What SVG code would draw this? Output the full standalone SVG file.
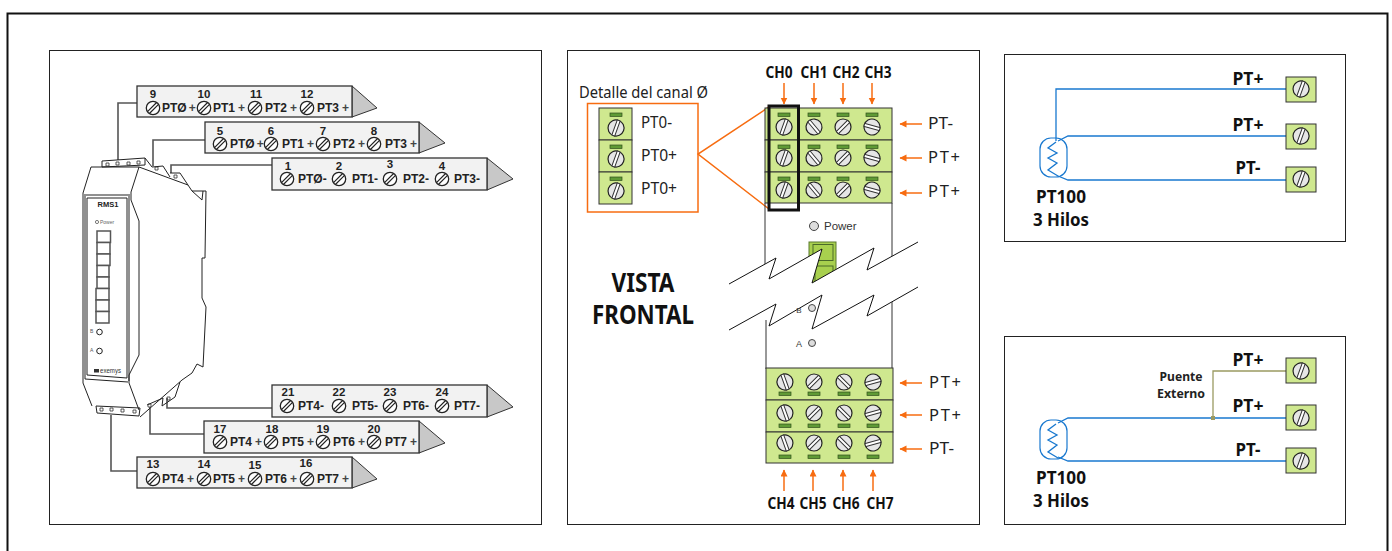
<svg xmlns="http://www.w3.org/2000/svg" width="1392" height="551" viewBox="0 0 1392 551">
<style>
.panel{fill:#fff;stroke:#222;stroke-width:1}
.tag{fill:#f2f2f2;stroke:#333;stroke-width:1.3}
.tip{fill:#c8c8c8;stroke:#333;stroke-width:1}
.tn{font:bold 11.5px "Liberation Sans",Arial,sans-serif;fill:#222;text-anchor:middle}
.tt{font:bold 12px "Liberation Sans",Arial,sans-serif;fill:#222}
.tt tspan{fill:#444}
.wire{fill:none;stroke:#555;stroke-width:1.6}
.dev{fill:none;stroke:#222;stroke-width:1}
.ch{font:bold 16px "Noto Sans","Open Sans",sans-serif;fill:#111;text-anchor:middle}
.lab{font:16.500px "Noto Sans","Open Sans",sans-serif;fill:#222}
.pt{font:bold 18.500px "Noto Sans","Open Sans",sans-serif;fill:#111;text-anchor:middle}
.blk{fill:#cfe88f;stroke:#333;stroke-width:1}
.ind{fill:#5f9a35;stroke:#2f4f1c;stroke-width:.7}
.or{fill:none;stroke:#f76c10;stroke-width:1.5}
.bl{fill:none;stroke:#1878cf;stroke-width:1.3}
.led{fill:#ddd;stroke:#444;stroke-width:1}
</style>
<defs>
<g id="ts"><circle r="6.7" fill="#fff" stroke="#222" stroke-width="1.3"/><path d="M-5.500 3.600L3.600-5.500M-3.600 5.500L5.500-3.600" stroke="#222" stroke-width="1.2"/></g>
<g id="s"><circle r="8" fill="#e6e6e6" stroke="#222" stroke-width="1.2"/><rect x="-1.500" y="-8" width="3" height="16" fill="#fff" stroke="#333" stroke-width="1"/></g>
<marker id="ah" markerWidth="8" markerHeight="8" refX="6.500" refY="3.500" orient="auto" markerUnits="userSpaceOnUse"><path d="M0 0L7 3.500L0 7z" fill="#f76c10"/></marker>
<path id="res" d="M1056 142L1048 148L1057 153L1048 158L1057 163L1048 170L1058 176" fill="none" stroke="#1878cf" stroke-width="1.300"/>
<rect id="cap" x="1040" y="138" width="27" height="39" rx="11" fill="none" stroke="#1878cf" stroke-width="1.200"/>
</defs>
<rect width="1392" height="551" fill="#fff"/>
<path id="frame" d="M7.500 551V13.500H1387.500V551" fill="none" stroke="#111" stroke-width="2"/>
<rect id="panel-a" class="panel" x="49.500" y="50.500" width="492" height="474"/>
<rect id="panel-b" class="panel" x="567.500" y="50.500" width="412" height="474"/>
<rect id="panel-c" class="panel" x="1004.500" y="54.500" width="341" height="187"/>
<rect id="panel-d" class="panel" x="1004.500" y="336.500" width="341" height="188"/>

<g id="connectors">
<path class="wire" d="M137 103H118V160"/>
<path class="wire" d="M205 140H153V166"/>
<path class="wire" d="M272 165H171V173"/>
<path class="wire" d="M272 408H167V398"/>
<path class="wire" d="M204 434H150V407"/>
<path class="wire" d="M137 471H111V415"/>
<path class="or" d="M784 83V104" marker-end="url(#ah)"/><path class="or" d="M814 83V104" marker-end="url(#ah)"/><path class="or" d="M843 83V104" marker-end="url(#ah)"/><path class="or" d="M872 83V104" marker-end="url(#ah)"/>
<path class="or" d="M922 124H900" marker-end="url(#ah)"/><path class="or" d="M922 158H900" marker-end="url(#ah)"/><path class="or" d="M922 193H900" marker-end="url(#ah)"/>
<path class="or" d="M922 383H900" marker-end="url(#ah)"/><path class="or" d="M922 415H900" marker-end="url(#ah)"/><path class="or" d="M922 449H900" marker-end="url(#ah)"/>
<path class="or" d="M784 491V470" marker-end="url(#ah)"/><path class="or" d="M813 491V470" marker-end="url(#ah)"/><path class="or" d="M843 491V470" marker-end="url(#ah)"/><path class="or" d="M873 491V470" marker-end="url(#ah)"/>
<path class="or" d="M769 107L698 154L769 209"/>
<path class="bl" d="M1286 89H1056V141M1286 136H1068L1058 141M1286 180H1068L1058 176"/>
<path class="bl" d="M1286 418H1068L1058 423M1286 461H1068L1058 457"/>
<path d="M1213 418V371H1286" fill="none" stroke="#9a9a62" stroke-width="1.300"/>
<rect x="1211" y="416" width="4" height="4" fill="#9a9a62"/>
</g>

<g id="device">
<path class="dev" d="M91 167L139 167L131 192V200L139 221V355L129 375V383L139 410"/>
<path class="dev" d="M91 167L83 193V383L92 406"/>
<path class="dev" d="M84 195H130M85 196V379L128 382M129 196V381"/>
<path class="dev" d="M87 198H127V378L87 375V198" stroke-width="1.200"/>
<path class="dev" d="M102 161L145 158V165L102 167ZM145 158L152 167M139 167L188 185M152 167L163 166L170 177M170 173L180 173L188 185L192 191H203L202 200L192 191M203 191H206L205 258H202V298L206 307L203 367L197 364L192 373L182 380L140 417"/>
<path class="dev" d="M96 406L140 408L139 416L97 413ZM147 405L163 398L162 406L175 397L180 382"/>
<path d="M106 163h3v3h-3zM116 162h3v3h-3zM127 162h3v3h-3zM137 161h3v3h-3zM155 167h3v3h-3zM174 175h3v3h-3zM100 408h3v3h-3zM110 408h3v3h-3zM121 409h3v3h-3zM133 410h3v3h-3zM148 404h3v3h-3zM167 397h3v3h-3z" fill="none" stroke="#333" stroke-width=".8"/>
<text x="108" y="207" font-family="Liberation Sans,Arial,sans-serif" font-weight="bold" font-size="7.500" text-anchor="middle" fill="#222">RMS1</text>
<circle cx="97" cy="222" r="1.600" fill="none" stroke="#444" stroke-width=".7"/>
<text x="100" y="224" font-family="Liberation Sans,Arial,sans-serif" font-size="5" fill="#666">Power</text>
<g fill="#fff" stroke="#555" stroke-width="1.500">
<rect x="97" y="231" width="13.500" height="11.500"/><rect x="97" y="242.500" width="13" height="11.500"/><rect x="97" y="254" width="13" height="11.500"/><rect x="97" y="265.500" width="12" height="11.500"/><rect x="97" y="277" width="12" height="11.500"/><rect x="96" y="288.500" width="13" height="11.500"/><rect x="96" y="300" width="13" height="11.500"/><rect x="96" y="311.500" width="13" height="11.500"/>
</g>
<circle cx="99.500" cy="332" r="2.800" fill="#fff" stroke="#222" stroke-width="1"/>
<circle cx="99.500" cy="351" r="2.800" fill="#fff" stroke="#222" stroke-width="1"/>
<text x="90" y="333" font-family="Liberation Sans,Arial,sans-serif" font-size="5" fill="#555">B</text>
<text x="90" y="352" font-family="Liberation Sans,Arial,sans-serif" font-size="5" fill="#555">A</text>
<rect x="94" y="369" width="5" height="3.500" fill="#333"/>
<text x="100" y="373" font-family="Liberation Sans Narrow,Liberation Sans,sans-serif" font-size="7.500" fill="#333" textLength="21" lengthAdjust="spacingAndGlyphs">exemys</text>
</g>

<g id="tag-9">
<path class="tip" d="M352 86L377 108L352 117z"/><rect class="tag" x="137" y="86" width="215" height="31"/>
<use href="#ts" x="153" y="108"/><use href="#ts" x="204" y="108"/><use href="#ts" x="255" y="108"/><use href="#ts" x="307" y="108"/>
<text class="tn" x="153" y="98">9</text><text class="tn" x="204" y="98">10</text><text class="tn" x="256" y="98">11</text><text class="tn" x="307" y="98">12</text>
<text class="tt" x="162" y="112">PTØ<tspan dx="2">+</tspan></text><text class="tt" x="213" y="112">PT1<tspan dx="3">+</tspan></text><text class="tt" x="265" y="112">PT2<tspan dx="3">+</tspan></text><text class="tt" x="317" y="112">PT3<tspan dx="3">+</tspan></text>
</g>
<g id="tag-5">
<path class="tip" d="M419 122L445 143L419 153z"/><rect class="tag" x="205" y="122" width="214" height="31"/>
<use href="#ts" x="220" y="144"/><use href="#ts" x="271" y="144"/><use href="#ts" x="323" y="144"/><use href="#ts" x="374" y="144"/>
<text class="tn" x="220" y="135">5</text><text class="tn" x="271" y="135">6</text><text class="tn" x="323" y="135">7</text><text class="tn" x="374" y="135">8</text>
<text class="tt" x="230" y="148">PTØ<tspan dx="2">+</tspan></text><text class="tt" x="282" y="148">PT1<tspan dx="3">+</tspan></text><text class="tt" x="333" y="148">PT2<tspan dx="3">+</tspan></text><text class="tt" x="385" y="148">PT3<tspan dx="3">+</tspan></text>
</g>
<g id="tag-1">
<path class="tip" d="M487 158L513 179L487 190z"/><rect class="tag" x="272" y="158" width="215" height="32"/>
<use href="#ts" x="287" y="179"/><use href="#ts" x="339" y="179"/><use href="#ts" x="390" y="179"/><use href="#ts" x="442" y="179"/>
<text class="tn" x="288" y="170">1</text><text class="tn" x="339" y="170">2</text><text class="tn" x="390" y="168">3</text><text class="tn" x="442" y="170">4</text>
<text class="tt" x="298" y="183">PTØ-</text><text class="tt" x="352" y="183">PT1-</text><text class="tt" x="403" y="183">PT2-</text><text class="tt" x="454" y="183">PT3-</text>
</g>
<g id="tag-21">
<path class="tip" d="M487 385L513 407L487 417z"/><rect class="tag" x="272" y="385" width="215" height="32"/>
<use href="#ts" x="287" y="406"/><use href="#ts" x="339" y="406"/><use href="#ts" x="390" y="406"/><use href="#ts" x="442" y="406"/>
<text class="tn" x="288" y="396">21</text><text class="tn" x="339" y="396">22</text><text class="tn" x="390" y="396">23</text><text class="tn" x="442" y="396">24</text>
<text class="tt" x="298" y="410">PT4-</text><text class="tt" x="352" y="410">PT5-</text><text class="tt" x="403" y="410">PT6-</text><text class="tt" x="454" y="410">PT7-</text>
</g>
<g id="tag-17">
<path class="tip" d="M419 421L445 443L419 453z"/><rect class="tag" x="204" y="421" width="215" height="32"/>
<use href="#ts" x="220" y="442"/><use href="#ts" x="271" y="442"/><use href="#ts" x="323" y="442"/><use href="#ts" x="374" y="442"/>
<text class="tn" x="220" y="433">17</text><text class="tn" x="272" y="433">18</text><text class="tn" x="323" y="433">19</text><text class="tn" x="374" y="433">20</text>
<text class="tt" x="230" y="446">PT4<tspan dx="3">+</tspan></text><text class="tt" x="282" y="446">PT5<tspan dx="3">+</tspan></text><text class="tt" x="333" y="446">PT6<tspan dx="3">+</tspan></text><text class="tt" x="385" y="446">PT7<tspan dx="3">+</tspan></text>
</g>
<g id="tag-13">
<path class="tip" d="M352 457L377 479L352 488z"/><rect class="tag" x="137" y="457" width="215" height="31"/>
<use href="#ts" x="153" y="479"/><use href="#ts" x="204" y="479"/><use href="#ts" x="255" y="479"/><use href="#ts" x="307" y="479"/>
<text class="tn" x="153" y="468">13</text><text class="tn" x="204" y="468">14</text><text class="tn" x="255" y="469">15</text><text class="tn" x="306" y="467">16</text>
<text class="tt" x="162" y="483">PT4<tspan dx="3">+</tspan></text><text class="tt" x="213" y="483">PT5<tspan dx="3">+</tspan></text><text class="tt" x="265" y="483">PT6<tspan dx="3">+</tspan></text><text class="tt" x="317" y="483">PT7<tspan dx="3">+</tspan></text>
</g>

<g id="detail">
<rect x="587.500" y="103.500" width="110.500" height="108.500" class="or"/>
<text class="lab" x="579" y="98" textLength="129" lengthAdjust="spacingAndGlyphs">Detalle del canal Ø</text>
<rect class="blk" x="599" y="108" width="33" height="32"/><rect class="blk" x="599" y="140" width="33" height="32"/><rect class="blk" x="599" y="172" width="33" height="32"/>
<rect class="ind" x="610" y="113" width="12" height="3.500"/><rect class="ind" x="610" y="145" width="12" height="3.500"/><rect class="ind" x="610" y="177" width="12" height="3.500"/>
<use href="#s" transform="translate(616 128) rotate(20)"/><use href="#s" transform="translate(616 159) rotate(20)"/><use href="#s" transform="translate(616 191) rotate(20)"/>
<text class="lab" x="641" y="128" textLength="31" lengthAdjust="spacingAndGlyphs">PT0-</text>
<text class="lab" x="641" y="161" textLength="36" lengthAdjust="spacingAndGlyphs">PT0+</text>
<text class="lab" x="641" y="194" textLength="36" lengthAdjust="spacingAndGlyphs">PT0+</text>
</g>

<g id="front-body">
<path d="M765 203V270M892 203V260M766 320V369M892 300V369" fill="none" stroke="#333" stroke-width="1"/>
<circle class="led" cx="814" cy="226" r="4.500"/>
<text x="824" y="230" font-family="Liberation Sans,Arial,sans-serif" font-size="11.500" fill="#333">Power</text>
<rect x="809" y="242" width="27" height="50" fill="#a8d04e" stroke="#5a7a2e"/>
<rect x="813" y="244.500" width="20" height="16" fill="#a8d04e" stroke="#4a6a28"/><rect x="815" y="266" width="18" height="16" fill="#a8d04e" stroke="#4a6a28"/>
<path d="M729 284L776 258L769 279L822 249L812 283L874 248L867 270L918 242V287L867 316L874 295L812 329L822 295L769 326L776 304L729 330Z" fill="#fff" stroke="none"/>
<path d="M729 284L776 258L769 279L822 249L812 283L874 248L867 270L918 242M729 330L776 304L769 326L822 295L812 329L874 295L867 316L918 287" fill="none" stroke="#111" stroke-width="1"/>
<circle class="led" cx="812" cy="308" r="3.500"/><circle class="led" cx="812" cy="343" r="3.500"/>
<text x="799" y="313" font-family="Liberation Sans,Arial,sans-serif" font-size="8" text-anchor="middle" fill="#333">B</text>
<text x="799" y="347" font-family="Liberation Sans,Arial,sans-serif" font-size="9" text-anchor="middle" fill="#333">A</text>
</g>

<g id="block-top">
<rect class="blk" x="765" y="108" width="127" height="32"/><rect class="blk" x="765" y="140" width="127" height="32"/><rect class="blk" x="765" y="172" width="127" height="31"/>
<rect class="ind" x="778" y="113" width="12" height="3.500"/><rect class="ind" x="808" y="113" width="12" height="3.500"/><rect class="ind" x="837" y="113" width="12" height="3.500"/><rect class="ind" x="866" y="113" width="12" height="3.500"/><rect class="ind" x="778" y="145" width="12" height="3.500"/><rect class="ind" x="808" y="145" width="12" height="3.500"/><rect class="ind" x="837" y="145" width="12" height="3.500"/><rect class="ind" x="866" y="145" width="12" height="3.500"/><rect class="ind" x="778" y="177" width="12" height="3.500"/><rect class="ind" x="808" y="177" width="12" height="3.500"/><rect class="ind" x="837" y="177" width="12" height="3.500"/><rect class="ind" x="866" y="177" width="12" height="3.500"/>
<use href="#s" transform="translate(784 127) rotate(20)"/><use href="#s" transform="translate(814 127) rotate(-40)"/><use href="#s" transform="translate(843 127) rotate(45)"/><use href="#s" transform="translate(872 127) rotate(-75)"/>
<use href="#s" transform="translate(784 158) rotate(20)"/><use href="#s" transform="translate(814 158) rotate(-40)"/><use href="#s" transform="translate(843 158) rotate(45)"/><use href="#s" transform="translate(872 158) rotate(-75)"/>
<use href="#s" transform="translate(784 190) rotate(20)"/><use href="#s" transform="translate(814 190) rotate(-40)"/><use href="#s" transform="translate(843 190) rotate(45)"/><use href="#s" transform="translate(872 190) rotate(-75)"/>
<rect x="769" y="106" width="29.500" height="104" fill="none" stroke="#111" stroke-width="3"/>
</g>

<g id="block-bottom">
<rect class="blk" x="766" y="368" width="127" height="32"/><rect class="blk" x="766" y="400" width="127" height="32"/><rect class="blk" x="766" y="432" width="127" height="31"/>
<rect class="ind" x="779" y="392" width="12" height="3.500"/><rect class="ind" x="808" y="392" width="12" height="3.500"/><rect class="ind" x="838" y="392" width="12" height="3.500"/><rect class="ind" x="867" y="392" width="12" height="3.500"/><rect class="ind" x="779" y="424" width="12" height="3.500"/><rect class="ind" x="808" y="424" width="12" height="3.500"/><rect class="ind" x="838" y="424" width="12" height="3.500"/><rect class="ind" x="867" y="424" width="12" height="3.500"/><rect class="ind" x="779" y="455" width="12" height="3.500"/><rect class="ind" x="808" y="455" width="12" height="3.500"/><rect class="ind" x="838" y="455" width="12" height="3.500"/><rect class="ind" x="867" y="455" width="12" height="3.500"/>
<use href="#s" transform="translate(785 382) rotate(-20)"/><use href="#s" transform="translate(814 382) rotate(45)"/><use href="#s" transform="translate(844 382) rotate(-45)"/><use href="#s" transform="translate(873 382) rotate(75)"/>
<use href="#s" transform="translate(785 413) rotate(-20)"/><use href="#s" transform="translate(814 413) rotate(45)"/><use href="#s" transform="translate(844 413) rotate(-45)"/><use href="#s" transform="translate(873 413) rotate(75)"/>
<use href="#s" transform="translate(785 443) rotate(-20)"/><use href="#s" transform="translate(814 443) rotate(45)"/><use href="#s" transform="translate(844 443) rotate(-45)"/><use href="#s" transform="translate(873 443) rotate(75)"/>
</g>

<g id="front-labels">
<text class="ch" x="779" y="78" textLength="27" lengthAdjust="spacingAndGlyphs">CH0</text><text class="ch" x="814" y="78" textLength="27" lengthAdjust="spacingAndGlyphs">CH1</text><text class="ch" x="846" y="78" textLength="27" lengthAdjust="spacingAndGlyphs">CH2</text><text class="ch" x="878" y="78" textLength="27" lengthAdjust="spacingAndGlyphs">CH3</text>
<text class="ch" x="781" y="509" textLength="27" lengthAdjust="spacingAndGlyphs">CH4</text><text class="ch" x="813" y="509" textLength="27" lengthAdjust="spacingAndGlyphs">CH5</text><text class="ch" x="846" y="509" textLength="27" lengthAdjust="spacingAndGlyphs">CH6</text><text class="ch" x="880" y="509" textLength="27" lengthAdjust="spacingAndGlyphs">CH7</text>
<text class="lab" x="928" y="129" textLength="25" lengthAdjust="spacingAndGlyphs">PT-</text><text class="lab" x="928" y="163" textLength="32" lengthAdjust="spacing">PT+</text><text class="lab" x="928" y="197" textLength="32" lengthAdjust="spacing">PT+</text>
<text class="lab" x="929" y="388" textLength="32" lengthAdjust="spacing">PT+</text><text class="lab" x="929" y="421" textLength="32" lengthAdjust="spacing">PT+</text><text class="lab" x="929" y="454" textLength="25" lengthAdjust="spacingAndGlyphs">PT-</text>
<text x="643" y="292" font-family="Noto Sans,Open Sans,sans-serif" font-weight="bold" font-size="26" text-anchor="middle" fill="#111" textLength="63" lengthAdjust="spacingAndGlyphs">VISTA</text>
<text x="643" y="324" font-family="Noto Sans,Open Sans,sans-serif" font-weight="bold" font-size="26" text-anchor="middle" fill="#111" textLength="102" lengthAdjust="spacingAndGlyphs">FRONTAL</text>
</g>

<g id="pt100-a">
<rect class="blk" x="1286" y="77" width="30" height="25"/><rect class="blk" x="1286" y="124" width="30" height="25"/><rect class="blk" x="1286" y="167" width="30" height="25"/>
<use href="#s" transform="translate(1301 89) rotate(20)"/><use href="#s" transform="translate(1301 136) rotate(20)"/><use href="#s" transform="translate(1301 179) rotate(20)"/>
<use href="#cap"/><use href="#res"/>
<text class="pt" x="1248" y="85" textLength="31" lengthAdjust="spacingAndGlyphs">PT+</text><text class="pt" x="1248" y="131" textLength="31" lengthAdjust="spacingAndGlyphs">PT+</text><text class="pt" x="1248" y="174" textLength="25" lengthAdjust="spacingAndGlyphs">PT-</text>
<text class="pt" x="1061" y="203" textLength="50" lengthAdjust="spacingAndGlyphs">PT100</text><text class="pt" x="1061" y="226" textLength="56" lengthAdjust="spacingAndGlyphs">3 Hilos</text>
</g>
<g id="pt100-b">
<rect class="blk" x="1286" y="358" width="30" height="25"/><rect class="blk" x="1286" y="405" width="30" height="25"/><rect class="blk" x="1286" y="448" width="30" height="25"/>
<use href="#s" transform="translate(1301 371) rotate(20)"/><use href="#s" transform="translate(1301 418) rotate(20)"/><use href="#s" transform="translate(1301 461) rotate(20)"/>
<use href="#cap" y="282"/><use href="#res" y="282"/>
<text class="pt" x="1248" y="366" textLength="31" lengthAdjust="spacingAndGlyphs">PT+</text><text class="pt" x="1248" y="412" textLength="31" lengthAdjust="spacingAndGlyphs">PT+</text><text class="pt" x="1248" y="456" textLength="25" lengthAdjust="spacingAndGlyphs">PT-</text>
<text class="pt" x="1061" y="484" textLength="50" lengthAdjust="spacingAndGlyphs">PT100</text><text class="pt" x="1061" y="507" textLength="56" lengthAdjust="spacingAndGlyphs">3 Hilos</text>
<text x="1181" y="381" font-family="Noto Sans,Open Sans,sans-serif" font-weight="bold" font-size="12.500" text-anchor="middle" fill="#222" textLength="43" lengthAdjust="spacingAndGlyphs">Puente</text>
<text x="1181" y="398" font-family="Noto Sans,Open Sans,sans-serif" font-weight="bold" font-size="12.500" text-anchor="middle" fill="#222" textLength="48" lengthAdjust="spacingAndGlyphs">Externo</text>
</g>
</svg>
